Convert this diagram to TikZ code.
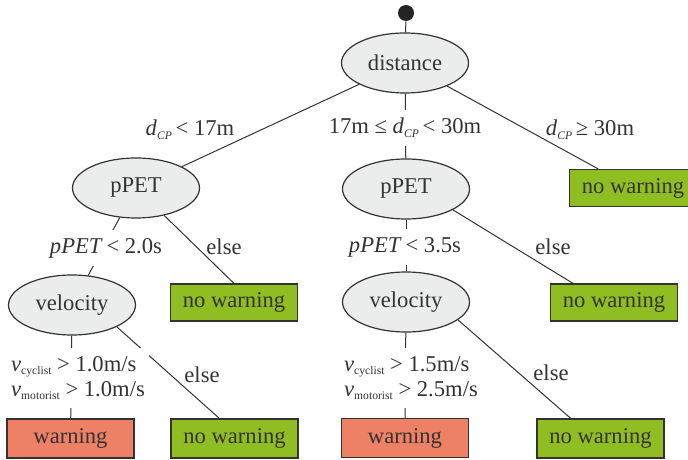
\documentclass[tikz,border=0pt]{standalone}
\usepackage{fontspec}
\setmainfont{Liberation Serif}
\usetikzlibrary{shapes.geometric}
\definecolor{splitgray}{RGB}{235,236,236}
\definecolor{leafgreen}{RGB}{144,189,34}
\definecolor{leafred}{RGB}{238,128,102}
\definecolor{inkgray}{RGB}{51,51,51}
\newcommand{\lowsub}[1]{\raisebox{-1.8pt}{\fontsize{5.8}{6}\selectfont #1}}
\newcommand{\dcp}{\textit{d}\lowsub{\textit{CP}}}
\newcommand{\vsub}[1]{\textit{v}\lowsub{#1}}
\tikzset{
  split/.style={ellipse, draw=inkgray, fill=splitgray, text=inkgray, line width=0.6pt,
    minimum width=63.5pt, minimum height=30pt, inner sep=0pt},
  leaf/.style={rectangle, draw=inkgray, text=inkgray, line width=0.6pt,
    minimum width=63.5pt, minimum height=18.5pt, inner sep=0pt},
  nowarn/.style={leaf, fill=leafgreen},
  warn/.style={leaf, fill=leafred},
  branch/.style={draw=inkgray, line width=0.5pt},
  cond/.style={inner sep=1pt, text=inkgray},
  condcut/.style={cond, fill=white, inner xsep=2pt, inner ysep=4pt}
}

\begin{document}
\begin{tikzpicture}[x=0.5pt, y=-0.5pt, font=\fontsize{11.3}{12.5}\selectfont]
    \useasboundingbox (0,0) rectangle (688,459);

    % Root and splits
    \node[circle, fill=inkgray!70!black, minimum size=8pt, inner sep=0pt] (root) at (406,13) {};
    \node[split] (dist) at (405,63) {distance};
    \node[split] (pPETl) at (136,188) {pPET};
    \node[split] (pPETr) at (406,189) {pPET};
    \node[split] (velL) at (72,305) {velocity};
    \node[split] (velR) at (406,302) {velocity};

    % Leaves
    \node[nowarn] (nwTop) at (633,188) {no warning};
    \node[nowarn] (nwL) at (234,302.5) {no warning};
    \node[nowarn] (nwR) at (614,302.5) {no warning};
    \node[warn, minimum height=19.5pt] (wL) at (70.5,438.5) {warning};
    \node[nowarn, minimum height=19.5pt] (nwBL) at (234.5,438.5) {no warning};
    \node[warn, minimum height=19.5pt] (wR) at (405,438) {warning};
    \node[nowarn, minimum height=19.5pt] (nwBR) at (600.5,438.5) {no warning};

    % Branches
    \draw[branch] (root) -- (dist);
    \draw[branch] (dist) -- (pPETl);
    \draw[branch] (dist) -- (pPETr);
    \draw[branch] (dist) -- (nwTop);
    \draw[branch] (pPETl) -- (velL);
    \draw[branch] (pPETl) -- (nwL.north);
    \draw[branch] (pPETr) -- (velR);
    \draw[branch] (pPETr.-24) -- (nwR.155);
    \draw[branch] (velL) -- (wL);
    \draw[branch] (velL.-26) -- (nwBL.127);
    \draw[branch] (velR) -- (wR);
    \draw[branch] (velR.-19) -- (nwBR.146);

    % Conditions
    \node[cond] (cA) at (190,130) {\dcp\,< 17m};
    \node[condcut] (cB) at (405,128) {17m ≤ \dcp\,< 30m};
    \node[cond] (cC) at (590,130) {\dcp\,≥ 30m};
    \node[condcut] (cD) at (106,248) {\textit{pPET}\,< 2.0s};
    \node[cond] (eD) at (224,247) {else};
    \node[condcut] (cE) at (405,247) {\textit{pPET}\,< 3.5s};
    \node[cond] (eE) at (553,247) {else};
    \node[condcut, align=left] (cF) at (78,378) {\vsub{cyclist} > 1.0m/s\\\vsub{motorist} > 1.0m/s};
    \node[cond] (eF) at (202,375) {else};
    \node[condcut, align=left] (cG) at (411,378) {\vsub{cyclist} > 1.5m/s\\\vsub{motorist} > 2.5m/s};
    \node[cond] (eG) at (551,373) {else};
\end{tikzpicture}
\end{document}
